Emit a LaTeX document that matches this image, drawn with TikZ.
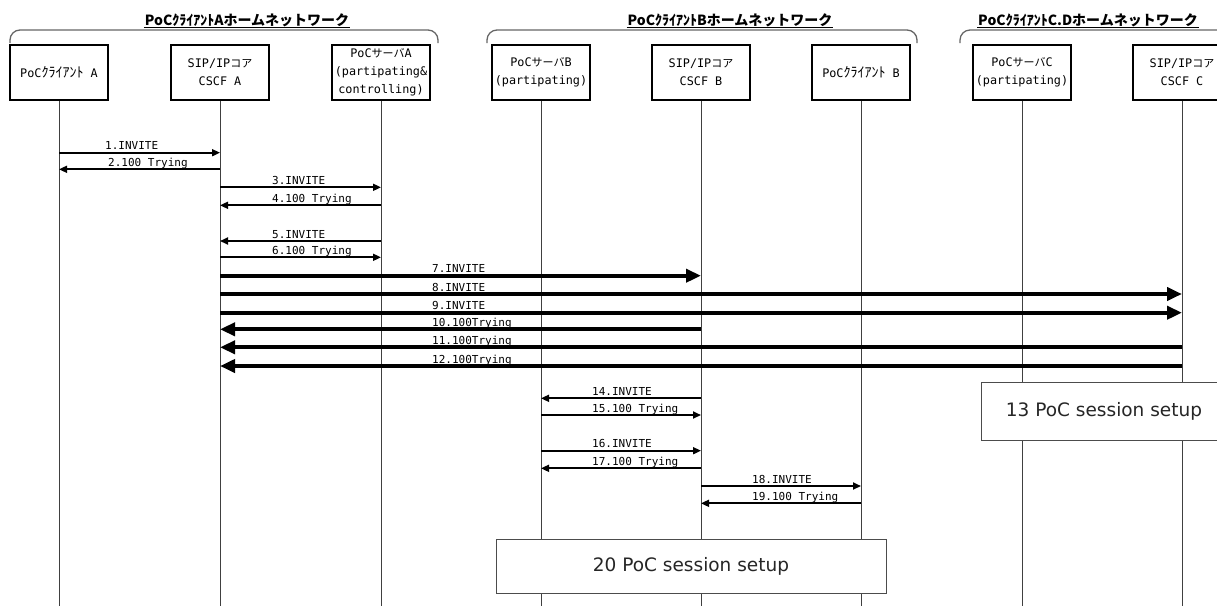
\documentclass[tikz,border=0pt]{standalone}
\usepackage{fontspec}
\setmainfont{DejaVu Sans Mono}
\newfontfamily\jp{Noto Sans CJK JP}
\newfontfamily\sessfont{DejaVu Sans}
\usetikzlibrary{arrows.meta}
\newcommand\jk[1]{{\jp\fontsize{11}{18}\selectfont #1}}
\newcommand\hk[1]{{\jp\fontsize{14}{18}\selectfont #1}}
\newcommand\seqmsg[7][msg]{%
  \draw[#1] (#3 |- 0,#5) -- (#4 |- 0,#5);
  \node[lbl] (#2) at (#6,#5) {#7};}
\begin{document}
\begin{tikzpicture}[x=1pt,y=-1pt,
  actor/.style={draw=black, line width=1.8pt, fill=white, minimum width=98pt,
    minimum height=55pt, align=center, inner sep=1pt,
    font=\fontsize{11.8}{18}\selectfont},
  life/.style={draw=black!75, line width=0.9pt},
  msg/.style={line width=1.7pt, -{Triangle[length=8pt,width=7pt]}},
  bigmsg/.style={line width=4pt, -{Triangle[length=15pt,width=13pt]}},
  lbl/.style={anchor=base west, inner sep=0pt, yshift=3pt,
    font=\fontsize{11}{13}\selectfont},
  grp/.style={draw=black!60, line width=1.3pt, rounded corners=10pt},
  gtitle/.style={font=\jp\bfseries\fontsize{14}{16}\selectfont, inner sep=0.8pt},
  uline/.style={draw=black, line width=1pt},
  sess/.style={draw=black!70, line width=0.9pt, fill=white,
    font=\sessfont\fontsize{18.5}{20}\selectfont, text=black!85}
]
\useasboundingbox (0,0) rectangle (1217,606);
\clip (0,0) rectangle (1217,606);

% group titles and brackets
\node[gtitle] (ta) at (247,20) {PoCｸﾗｲｱﾝﾄAホームネットワーク};
\node[gtitle] (tb) at (730,20) {PoCｸﾗｲｱﾝﾄBホームネットワーク};
\node[gtitle] (tc) at (1088,20) {PoCｸﾗｲｱﾝﾄC.Dホームネットワーク};
\draw[uline] (ta.south west) -- (ta.south east);
\draw[uline] (tb.south west) -- (tb.south east);
\draw[uline] (tc.south west) -- (tc.south east);
\draw[grp] (10,43) -- (10,30) -- (438,30) -- (438,43);
\draw[grp] (487,43) -- (487,30) -- (917,30) -- (917,43);
\draw[grp] (960,43) -- (960,30) -- (1250,30) -- (1250,43);

% actors
\node[actor] (ca) at (59,72.5) {PoC\hk{ｸﾗｲｱﾝﾄ} A};
\node[actor] (xa) at (220,72.5) {SIP/IP\jk{コア}\\CSCF A};
\node[actor] (sa) at (381,72.5) {PoC\jk{サーバ}A\\(partipating\&\\controlling)};
\node[actor] (sb) at (541,72.5) {PoC\jk{サーバ}B\\(partipating)};
\node[actor] (xb) at (701,72.5) {SIP/IP\jk{コア}\\CSCF B};
\node[actor] (cb) at (861,72.5) {PoC\hk{ｸﾗｲｱﾝﾄ} B};
\node[actor] (sc) at (1022,72.5) {PoC\jk{サーバ}C\\(partipating)};
\node[actor] (xc) at (1182,72.5) {SIP/IP\jk{コア}\\CSCF C};

% lifelines
\foreach \n in {ca,xa,sa,sb,xb,cb,sc,xc}{
  \coordinate (\n-end) at (\n |- 0,606);
  \draw[life] (\n.south) -- (\n-end);
}

% messages
\seqmsg{l1}{ca}{xa}{152.7}{105}{1.INVITE}
\seqmsg{l2}{xa}{ca}{169.3}{108}{2.100 Trying}
\seqmsg{l3}{xa}{sa}{187.3}{272}{3.INVITE}
\seqmsg{l4}{sa}{xa}{205.3}{272}{4.100 Trying}
\seqmsg{l5}{sa}{xa}{241}{272}{5.INVITE}
\seqmsg{l6}{xa}{sa}{257.3}{272}{6.100 Trying}
\seqmsg[bigmsg]{l7}{xa}{xb}{275.7}{432}{7.INVITE}
\seqmsg[bigmsg]{l8}{xa}{xc}{294}{432}{8.INVITE}
\seqmsg[bigmsg]{l9}{xa}{xc}{312.7}{432}{9.INVITE}
\seqmsg[bigmsg]{l10}{xb}{xa}{329.3}{432}{10.100Trying}
\seqmsg[bigmsg]{l11}{xc}{xa}{347.3}{432}{11.100Trying}
\seqmsg[bigmsg]{l12}{xc}{xa}{366}{432}{12.100Trying}
\seqmsg{l14}{xb}{sb}{398.3}{592}{14.INVITE}
\seqmsg{l15}{sb}{xb}{415}{592}{15.100 Trying}
\seqmsg{l16}{sb}{xb}{450.7}{592}{16.INVITE}
\seqmsg{l17}{xb}{sb}{468.3}{592}{17.100 Trying}
\seqmsg{l18}{xb}{cb}{486}{752}{18.INVITE}
\seqmsg{l19}{cb}{xb}{503.3}{752}{19.100 Trying}

% session setup boxes
\node[sess, minimum width=246pt, minimum height=58pt] (s13) at (1104,411) {13 PoC session setup};
\node[sess, minimum width=390pt, minimum height=54pt] (s20) at (691,566) {20 PoC session setup};
\end{tikzpicture}
\end{document}
